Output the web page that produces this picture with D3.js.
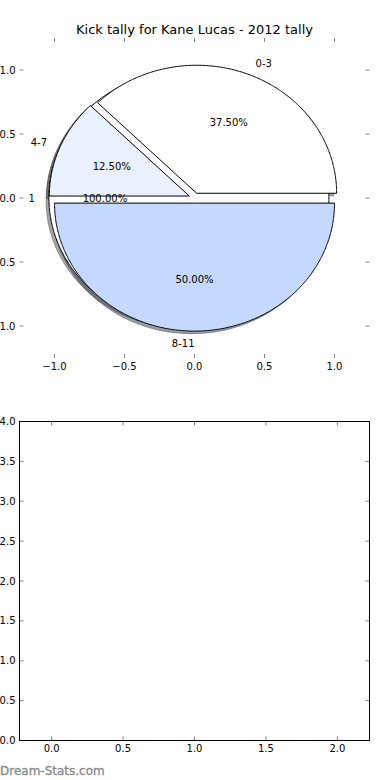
<!DOCTYPE html>
<html>
<head>
<meta charset="utf-8">
<script src="https://cdn.jsdelivr.net/npm/d3@7"></script>
<style>
  body { margin: 0; background: #fff; }
  svg { display: block; }
  text { font-family: "DejaVu Sans", sans-serif; }
</style>
</head>
<body>
<svg id="chart" width="390" height="780"></svg>
<script>
// Pie drawn underneath: one full slice
const baseLabels = ["1"];
const baseValues = [1];
const baseColors = ["#ffffff"];

// Pie drawn on top: kick tally groups
const categories = ["0-3", "4-7", "8-11"];
const values = [3, 1, 4];
const sliceColors = ["#ffffff", "#e9f0fe", "#c4d9fd"];

// Tick values
const pieTicks = [-1.0, -0.5, 0.0, 0.5, 1.0];
const barXTicks = [0.0, 0.5, 1.0, 1.5, 2.0];
const barYTicks = [0.0, 0.5, 1.0, 1.5, 2.0, 2.5, 3.0, 3.5, 4.0];

const chartTitle = "Kick tally for Kane Lucas - 2012 tally";

const svg = d3.select("#chart");
const fmt1 = d3.format(".1f");
const pct = d3.format(".2f");

// ---------- top axes (pie) ----------
const px = d3.scaleLinear().domain([-1.25, 1.25]).range([19.5, 369.5]);
const py = d3.scaleLinear().domain([-1.25, 1.25]).range([358, 38]);
const explode = 0.04;
const shadowOff = -0.02;
const line = d3.line();

// d3.pie goes counterclockwise from 3 o'clock like matplotlib
const pieGen = d3.pie().sort(null).value(d => d)
    .startAngle(Math.PI / 2).endAngle(Math.PI / 2 - 2 * Math.PI);

function slices(vals, labels, colors) {
    const total = d3.sum(vals);
    return pieGen(vals).map((d, i) => {
        const t0 = Math.PI / 2 - d.startAngle;
        const t1 = Math.PI / 2 - d.endAngle;
        const tm = (t0 + t1) / 2;
        return {
            t0, t1, tm,
            full: Math.abs(t1 - t0 - 2 * Math.PI) < 1e-9,
            dx: explode * Math.cos(tm),
            dy: explode * Math.sin(tm),
            label: labels[i],
            color: colors[i],
            frac: vals[i] / total
        };
    });
}

function wedgePath(s, ox, oy) {
    const n = Math.max(2, Math.ceil(Math.abs(s.t1 - s.t0) / 0.01));
    const pts = d3.range(n + 1).map(i => {
        const t = s.t0 + (s.t1 - s.t0) * i / n;
        return [px(Math.cos(t) + s.dx + ox), py(Math.sin(t) + s.dy + oy)];
    });
    if (!s.full) pts.unshift([px(s.dx + ox), py(s.dy + oy)]);
    return line(pts) + "Z";
}

const baseSlices = slices(baseValues, baseLabels, baseColors);
const topSlices = slices(values, categories, sliceColors);
const allSlices = baseSlices.concat(topSlices);

// shadows go under every wedge
const pieG = svg.append("g");
pieG.selectAll("path.shadow")
    .data(allSlices)
    .enter()
    .append("path")
    .attr("class", "shadow")
    .attr("d", s => wedgePath(s, shadowOff, shadowOff))
    .attr("fill", s => { const c = d3.rgb(s.color); return d3.rgb(c.r * 0.3, c.g * 0.3, c.b * 0.3); })
    .attr("fill-opacity", 0.5)
    .attr("stroke", s => { const c = d3.rgb(s.color); return d3.rgb(c.r * 0.3, c.g * 0.3, c.b * 0.3); })
    .attr("stroke-opacity", 0.5)
    .attr("stroke-width", 1);

pieG.selectAll("path.wedge")
    .data(allSlices)
    .enter()
    .append("path")
    .attr("class", "wedge")
    .attr("d", s => wedgePath(s, 0, 0))
    .attr("fill", s => s.color)
    .attr("stroke", "#000")
    .attr("stroke-width", 1)
    .attr("stroke-linejoin", "miter");

// outer labels
pieG.selectAll("text.lbl")
    .data(allSlices)
    .enter()
    .append("text")
    .attr("class", "lbl")
    .attr("x", s => px(s.dx + 1.1 * Math.cos(s.tm)))
    .attr("y", s => py(s.dy + 1.1 * Math.sin(s.tm)))
    .attr("dy", "0.35em")
    .attr("text-anchor", s => Math.cos(s.tm) > 0 ? "start" : "end")
    .attr("font-size", 10)
    .text(s => s.label);

// percentages
pieG.selectAll("text.pct")
    .data(allSlices)
    .enter()
    .append("text")
    .attr("class", "pct")
    .attr("x", s => px(s.dx + 0.6 * Math.cos(s.tm)))
    .attr("y", s => py(s.dy + 0.6 * Math.sin(s.tm)))
    .attr("dy", "0.35em")
    .attr("text-anchor", "middle")
    .attr("font-size", 10)
    .text(s => pct(s.frac * 100) + "%");

// ticks (no frame on the pie axes)
function drawTicks(g, xs, ys, xt, yt, left, right, top, bottom) {
    const tk = g.append("g").attr("stroke", "#000").attr("stroke-width", 0.5);
    xt.forEach(v => {
        tk.append("line").attr("x1", xs(v)).attr("x2", xs(v)).attr("y1", top).attr("y2", top + 4);
        tk.append("line").attr("x1", xs(v)).attr("x2", xs(v)).attr("y1", bottom).attr("y2", bottom - 4);
    });
    yt.forEach(v => {
        tk.append("line").attr("y1", ys(v)).attr("y2", ys(v)).attr("x1", left).attr("x2", left + 4);
        tk.append("line").attr("y1", ys(v)).attr("y2", ys(v)).attr("x1", right).attr("x2", right - 4);
    });
    g.selectAll(null).data(xt).enter().append("text")
        .attr("x", d => xs(d))
        .attr("y", bottom + 11.5)
        .attr("text-anchor", "middle")
        .attr("font-size", 10)
        .text(d => fmt1(d));
    g.selectAll(null).data(yt).enter().append("text")
        .attr("x", left - 4)
        .attr("y", d => ys(d))
        .attr("dy", "0.35em")
        .attr("text-anchor", "end")
        .attr("font-size", 10)
        .text(d => fmt1(d));
}

drawTicks(svg.append("g"), px, py, pieTicks, pieTicks, 19.5, 369.5, 38, 358);

svg.append("text")
    .attr("x", 194.5)
    .attr("y", 34)
    .attr("text-anchor", "middle")
    .attr("font-size", 13)
    .text(chartTitle);

// ---------- bottom axes (empty) ----------
const bx = d3.scaleLinear().domain([-0.225, 2.225]).range([19.5, 369.5]);
const by = d3.scaleLinear().domain([0, 4]).range([740.5, 421.5]);

const bottomG = svg.append("g");
drawTicks(bottomG, bx, by, barXTicks, barYTicks, 19.5, 369.5, 421.5, 740.5);
bottomG.append("rect")
    .attr("x", 19.5)
    .attr("y", 421.5)
    .attr("width", 350)
    .attr("height", 319)
    .attr("fill", "none")
    .attr("stroke", "#000")
    .attr("stroke-width", 1);

// watermark
svg.append("text")
    .attr("x", 0)
    .attr("y", 775)
    .attr("font-size", 12)
    .attr("fill", "#888")
    .attr("stroke", "#888")
    .attr("stroke-width", 0.3)
    .text("Dream-Stats.com");
</script>
</body>
</html>
